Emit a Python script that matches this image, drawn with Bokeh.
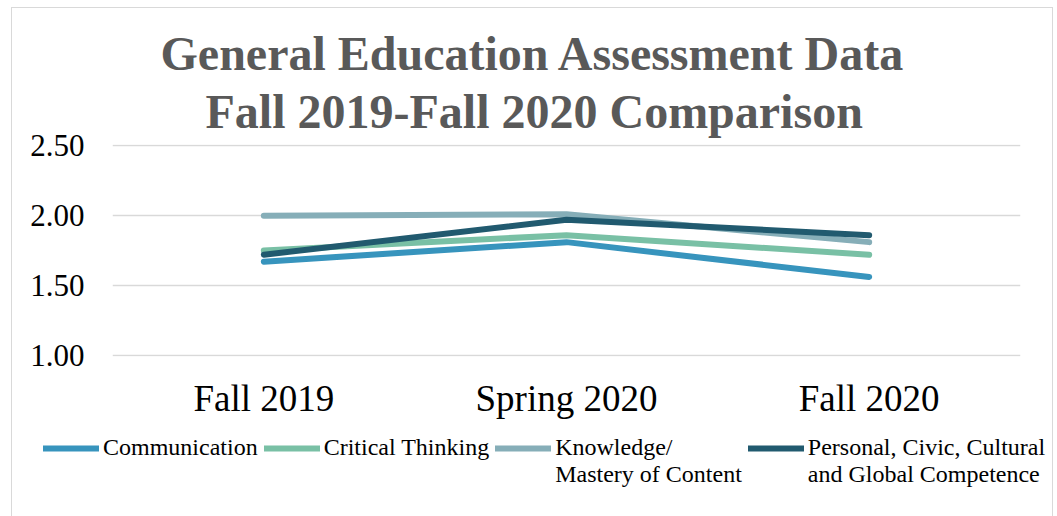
from bokeh.plotting import figure
from bokeh.layouts import column
from bokeh.models import (FactorRange, Range1d, FixedTicker, PrintfTickFormatter, Legend, LegendItem, Title)
from bokeh.embed import file_html
from bokeh.resources import INLINE

terms = ["Fall 2019", "Spring 2020", "Fall 2020"]
communication = [1.67, 1.81, 1.56]
critical_thinking = [1.75, 1.86, 1.72]
knowledge = [2.00, 2.01, 1.81]
personal = [1.72, 1.97, 1.86]
series_names = ["Communication", "Critical Thinking", "Knowledge/\nMastery of Content",
                "Personal, Civic, Cultural\nand Global Competence"]
series_values = [communication, critical_thinking, knowledge, personal]
colors = ["#3794BD", "#79C0A5", "#86AEB8", "#215A6F"]
y_ticks = [1.0, 1.5, 2.0, 2.5]

FONT = "Liberation Serif"
W = 1040

# ---- main chart ----
p = figure(width=W, height=413, x_range=FactorRange(*terms), y_range=(0.99, 2.51),
           output_backend="svg", toolbar_location=None,
           min_border_left=100, min_border_right=32, min_border_top=136, min_border_bottom=63)
p.outline_line_color = None
p.background_fill_color = "white"
p.border_fill_color = "white"
p.frame_align = False

p.yaxis.ticker = FixedTicker(ticks=y_ticks)
p.yaxis.formatter = PrintfTickFormatter(format="%.2f")
for ax in (p.xaxis[0], p.yaxis[0]):
    ax.axis_line_color = None
    ax.major_tick_line_color = None
    ax.minor_tick_line_color = None
    ax.major_tick_out = 0
    ax.major_tick_in = 0
    ax.major_label_text_font = FONT
    ax.major_label_text_color = "black"
p.yaxis.major_label_text_font_size = "31px"
p.yaxis.major_label_standoff = 28
p.xaxis.major_label_text_font_size = "37px"
p.xaxis.major_label_standoff = 21

p.xgrid.grid_line_color = None
p.ygrid.grid_line_color = "#d9d9d9"
p.ygrid.grid_line_width = 1.5
p.ygrid.ticker = FixedTicker(ticks=y_ticks)

for vals, c in zip(series_values, colors):
    p.line(terms, vals, line_color=c, line_width=6, line_cap="round", line_join="round")

t2 = Title(text="Fall 2019-Fall 2020 Comparison", align="left", text_font=FONT,
           text_font_size="48px", text_font_style="bold", text_color="#595959",
           standoff=13, offset=93)
t1 = Title(text="General Education Assessment Data", align="left", text_font=FONT,
           text_font_size="48px", text_font_style="bold", text_color="#595959",
           standoff=-6, offset=48)
p.add_layout(t2, "above")
p.add_layout(t1, "above")

# ---- legend strip (series drawn out of view so only their legend swatches show) ----
p2 = figure(width=W, height=95, x_range=FactorRange(*terms), y_range=Range1d(0, 1),
            output_backend="svg", toolbar_location=None,
            x_axis_type=None, y_axis_type=None, min_border=0,
            min_border_left=0, min_border_right=0, min_border_top=0, min_border_bottom=0)
p2.outline_line_color = None
p2.grid.visible = False
p2.frame_align = False
items = []
for name, vals, c in zip(series_names, series_values, colors):
    r = p2.line(terms, vals, line_color=c, line_width=6, line_cap="round")
    # leading blank line keeps the swatch level with the first text line
    label = "\n" + name if "\n" in name else name
    items.append(LegendItem(label=label, renderers=[r]))

legend = Legend(items=items, orientation="horizontal", location=(31, 28),
                label_text_font=FONT, label_text_font_size="24px", label_text_color="black",
                glyph_width=56, glyph_height=20, label_standoff=4, spacing=6,
                padding=0, margin=0, border_line_color=None, background_fill_alpha=0)
p2.add_layout(legend, "center")

layout = column(p, p2, spacing=0)
layout.styles = {"margin-left": "11px", "margin-top": "7px",
                 "border": "1px solid #d9d9d9", "border-bottom": "none"}
open("out.html", "w").write(file_html(layout, INLINE))
